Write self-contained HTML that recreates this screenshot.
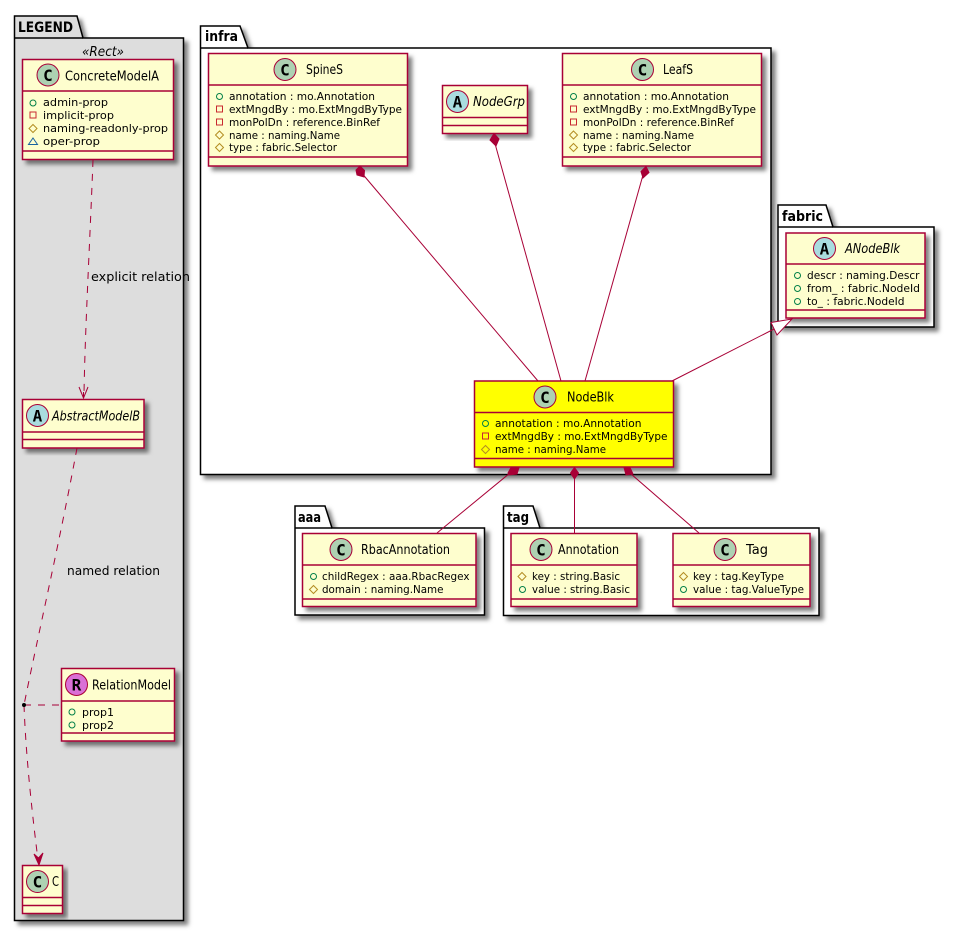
<!DOCTYPE html>
<html>
<head>
<meta charset="utf-8">
<title>Diagram</title>
<style>
html,body{margin:0;padding:0;background:#fff;width:955px;height:932px;overflow:hidden}
svg{display:block}
text{font-family:"DejaVu Sans","Liberation Sans",sans-serif;fill:#000}
.m{font-size:11px}
.t{font-size:13px}
.i{font-style:italic}
.p{font-size:14px;font-weight:bold}
.l{font-size:12.5px}
.g{font-family:"DejaVu Sans Mono","Liberation Mono",monospace;font-weight:bold;font-size:16px;text-anchor:middle}
.box{stroke:#A80036;stroke-width:1.5;fill:#FEFECE;filter:url(#s)}
.pk{stroke:#000;stroke-width:1.5;fill:#fff;filter:url(#s)}
.d{stroke:#A80036;stroke-width:1.5}
.e{stroke:#A80036;stroke-width:1;fill:none}
.ds{stroke:#A80036;stroke-width:1;fill:none;stroke-dasharray:7,7}
.vp{fill:none;stroke:#038048;stroke-width:1}
.vm{fill:none;stroke:#C82930;stroke-width:1}
.vh{fill:none;stroke:#B38D22;stroke-width:1}
.vt{fill:none;stroke:#1963A0;stroke-width:1}
</style>
</head>
<body>
<svg width="955" height="932" viewBox="0 0 955 932" xmlns="http://www.w3.org/2000/svg">
<defs>
<filter id="s" x="-10%" y="-10%" width="125%" height="125%">
<feDropShadow dx="4" dy="4" stdDeviation="2.2" flood-color="#000" flood-opacity="0.5"/>
</filter>
</defs>

<!-- packages -->
<path class="pk" style="fill:#DDDDDD" d="M14.5,38 V16 H77 L83,38 H183.5 V920.5 H14.5 Z"/>
<path d="M14.5,38 H83" stroke="#000" stroke-width="1.5" fill="none"/>
<text class="p" x="18" y="32" textLength="55" lengthAdjust="spacingAndGlyphs">LEGEND</text>

<path class="pk" d="M200.5,48 V26 H240 L248,48 H771 V474.5 H200.5 Z"/>
<path d="M200.5,48 H248" stroke="#000" stroke-width="1.5"/>
<text class="p" x="205" y="41" textLength="33" lengthAdjust="spacingAndGlyphs">infra</text>

<path class="pk" d="M778,227 V205 H826 L833,227 H934 V327 H778 Z"/>
<path d="M778,227 H833" stroke="#000" stroke-width="1.5"/>
<text class="p" x="782" y="221" textLength="41" lengthAdjust="spacingAndGlyphs">fabric</text>

<path class="pk" d="M295,528 V506 H325 L332,528 H484.5 V615 H295 Z"/>
<path d="M295,528 H332" stroke="#000" stroke-width="1.5"/>
<text class="p" x="298" y="522" textLength="23" lengthAdjust="spacingAndGlyphs">aaa</text>

<path class="pk" d="M503.5,528 V506 H533 L540,528 H819 V615.5 H503.5 Z"/>
<path d="M503.5,528 H540" stroke="#000" stroke-width="1.5"/>
<text class="p" x="507" y="522" textLength="22" lengthAdjust="spacingAndGlyphs">tag</text>

<text x="82" y="56" textLength="42" lengthAdjust="spacingAndGlyphs" class="i" style="font-size:13.5px">«Rect»</text>

<!-- ConcreteModelA -->
<rect class="box" x="22.5" y="59.5" width="151" height="100"/>
<path class="d" d="M22.5,91 H173.5 M22.5,151 H173.5"/>
<circle cx="48" cy="75" r="11" fill="#ADD1B2" stroke="#A80036"/>
<text class="g" x="48" y="81">C</text>
<text class="t" x="65" y="80.5" textLength="94" lengthAdjust="spacingAndGlyphs">ConcreteModelA</text>
<circle class="vp" cx="33" cy="103" r="3"/>
<rect class="vm" x="30" y="112" width="6" height="6"/>
<path class="vh" d="M33,124.5 L37,128.5 L33,132.5 L29,128.5 Z"/>
<path class="vt" d="M33,138 L37.5,144.5 H28.5 Z"/>
<text class="m" x="43" y="106" textLength="65" lengthAdjust="spacingAndGlyphs">admin-prop</text>
<text class="m" x="43" y="119" textLength="71" lengthAdjust="spacingAndGlyphs">implicit-prop</text>
<text class="m" x="43" y="132" textLength="125" lengthAdjust="spacingAndGlyphs">naming-readonly-prop</text>
<text class="m" x="43" y="145" textLength="57" lengthAdjust="spacingAndGlyphs">oper-prop</text>

<!-- AbstractModelB -->
<rect class="box" x="22.5" y="399.5" width="121.5" height="48.5"/>
<path class="d" d="M22.5,432 H144 M22.5,439.5 H144"/>
<circle cx="37.5" cy="415.5" r="11" fill="#A9DCDF" stroke="#A80036"/>
<text class="g" x="37.5" y="421.5">A</text>
<text class="t i" x="52" y="420.5" textLength="88" lengthAdjust="spacingAndGlyphs">AbstractModelB</text>

<!-- RelationModel -->
<rect class="box" x="61.5" y="668.5" width="113" height="72.5"/>
<path class="d" d="M61.5,701 H174.5 M61.5,733 H174.5"/>
<circle cx="76.5" cy="684.5" r="11" fill="#DA70D6" stroke="#A80036"/>
<text class="g" x="76.5" y="690.5">R</text>
<text class="t" x="92" y="689.5" textLength="79" lengthAdjust="spacingAndGlyphs">RelationModel</text>
<circle class="vp" cx="72" cy="712" r="3"/>
<circle class="vp" cx="72" cy="725" r="3"/>
<text class="m" x="82" y="716" textLength="32" lengthAdjust="spacingAndGlyphs">prop1</text>
<text class="m" x="82" y="729" textLength="32" lengthAdjust="spacingAndGlyphs">prop2</text>

<!-- C -->
<rect class="box" x="22.5" y="865.5" width="40" height="48"/>
<path class="d" d="M22.5,897.5 H62.5 M22.5,905.5 H62.5"/>
<circle cx="37.5" cy="881.5" r="11" fill="#ADD1B2" stroke="#A80036"/>
<text class="g" x="37.5" y="887.5">C</text>
<text class="t" x="52" y="886" textLength="7" lengthAdjust="spacingAndGlyphs">C</text>

<!-- SpineS -->
<rect class="box" x="208.5" y="53.5" width="199" height="112.5"/>
<path class="d" d="M208.5,85 H407.5 M208.5,157 H407.5"/>
<circle cx="285" cy="69.5" r="11" fill="#ADD1B2" stroke="#A80036"/>
<text class="g" x="285" y="75.5">C</text>
<text class="t" x="306" y="74" textLength="37" lengthAdjust="spacingAndGlyphs">SpineS</text>
<circle class="vp" cx="219.5" cy="96.5" r="3"/>
<rect class="vm" x="216.5" y="106" width="6" height="6"/>
<rect class="vm" x="216.5" y="119" width="6" height="6"/>
<path class="vh" d="M219.5,131 L223.5,135 L219.5,139 L215.5,135 Z"/>
<path class="vh" d="M219.5,143.5 L223.5,147.5 L219.5,151.5 L215.5,147.5 Z"/>
<text class="m" x="229" y="100" textLength="146" lengthAdjust="spacingAndGlyphs">annotation : mo.Annotation</text>
<text class="m" x="229" y="113" textLength="173" lengthAdjust="spacingAndGlyphs">extMngdBy : mo.ExtMngdByType</text>
<text class="m" x="229" y="126" textLength="151" lengthAdjust="spacingAndGlyphs">monPolDn : reference.BinRef</text>
<text class="m" x="229" y="139" textLength="111" lengthAdjust="spacingAndGlyphs">name : naming.Name</text>
<text class="m" x="229" y="151" textLength="108" lengthAdjust="spacingAndGlyphs">type : fabric.Selector</text>

<!-- LeafS -->
<rect class="box" x="562.5" y="53.5" width="199" height="112.5"/>
<path class="d" d="M562.5,85 H761.5 M562.5,157 H761.5"/>
<circle cx="642.5" cy="69.5" r="11" fill="#ADD1B2" stroke="#A80036"/>
<text class="g" x="642.5" y="75.5">C</text>
<text class="t" x="663" y="74" textLength="30" lengthAdjust="spacingAndGlyphs">LeafS</text>
<circle class="vp" cx="573.5" cy="96.5" r="3"/>
<rect class="vm" x="570.5" y="106" width="6" height="6"/>
<rect class="vm" x="570.5" y="119" width="6" height="6"/>
<path class="vh" d="M573.5,131 L577.5,135 L573.5,139 L569.5,135 Z"/>
<path class="vh" d="M573.5,143.5 L577.5,147.5 L573.5,151.5 L569.5,147.5 Z"/>
<text class="m" x="583" y="100" textLength="146" lengthAdjust="spacingAndGlyphs">annotation : mo.Annotation</text>
<text class="m" x="583" y="113" textLength="173" lengthAdjust="spacingAndGlyphs">extMngdBy : mo.ExtMngdByType</text>
<text class="m" x="583" y="126" textLength="151" lengthAdjust="spacingAndGlyphs">monPolDn : reference.BinRef</text>
<text class="m" x="583" y="139" textLength="111" lengthAdjust="spacingAndGlyphs">name : naming.Name</text>
<text class="m" x="583" y="151" textLength="108" lengthAdjust="spacingAndGlyphs">type : fabric.Selector</text>

<!-- NodeGrp -->
<rect class="box" x="442.5" y="85.5" width="85" height="48"/>
<path class="d" d="M442.5,117.5 H527.5 M442.5,125.5 H527.5"/>
<circle cx="457.5" cy="101.5" r="11" fill="#A9DCDF" stroke="#A80036"/>
<text class="g" x="457.5" y="107.5">A</text>
<text class="t i" x="473" y="106" textLength="52" lengthAdjust="spacingAndGlyphs">NodeGrp</text>

<!-- ANodeBlk -->
<rect class="box" x="786" y="233" width="139" height="85"/>
<path class="d" d="M786,264 H925 M786,310 H925"/>
<circle cx="824.5" cy="248.5" r="11" fill="#A9DCDF" stroke="#A80036"/>
<text class="g" x="824.5" y="254.5">A</text>
<text class="t i" x="845" y="253" textLength="55" lengthAdjust="spacingAndGlyphs">ANodeBlk</text>
<circle class="vp" cx="797.5" cy="275.5" r="3"/>
<circle class="vp" cx="797.5" cy="288.5" r="3"/>
<circle class="vp" cx="797.5" cy="301.5" r="3"/>
<text class="m" x="807" y="279" textLength="112.5" lengthAdjust="spacingAndGlyphs">descr : naming.Descr</text>
<text class="m" x="807" y="292" textLength="113" lengthAdjust="spacingAndGlyphs">from_ : fabric.NodeId</text>
<text class="m" x="807" y="305" textLength="97.5" lengthAdjust="spacingAndGlyphs">to_ : fabric.NodeId</text>

<!-- NodeBlk -->
<rect class="box" style="fill:#FFFF00" x="474.5" y="381" width="199" height="86"/>
<path class="d" d="M474.5,412.5 H673.5 M474.5,458.5 H673.5"/>
<circle cx="545" cy="397" r="11" fill="#ADD1B2" stroke="#A80036"/>
<text class="g" x="545" y="403">C</text>
<text class="t" x="567" y="401.5" textLength="47" lengthAdjust="spacingAndGlyphs">NodeBlk</text>
<circle class="vp" cx="485.5" cy="423.5" r="3"/>
<rect class="vm" x="482.5" y="433" width="6" height="6"/>
<path class="vh" d="M485.5,445.5 L489.5,449.5 L485.5,453.5 L481.5,449.5 Z"/>
<text class="m" x="495" y="427" textLength="146.5" lengthAdjust="spacingAndGlyphs">annotation : mo.Annotation</text>
<text class="m" x="495" y="440" textLength="172.5" lengthAdjust="spacingAndGlyphs">extMngdBy : mo.ExtMngdByType</text>
<text class="m" x="495" y="453" textLength="111" lengthAdjust="spacingAndGlyphs">name : naming.Name</text>

<!-- RbacAnnotation -->
<rect class="box" x="302.5" y="533.5" width="173.5" height="73"/>
<path class="d" d="M302.5,565 H476 M302.5,599 H476"/>
<circle cx="341" cy="549.5" r="11" fill="#ADD1B2" stroke="#A80036"/>
<text class="g" x="341" y="555.5">C</text>
<text class="t" x="361" y="554" textLength="89" lengthAdjust="spacingAndGlyphs">RbacAnnotation</text>
<circle class="vp" cx="313.5" cy="576.5" r="3"/>
<path class="vh" d="M313.5,585.5 L317.5,589.5 L313.5,593.5 L309.5,589.5 Z"/>
<text class="m" x="322" y="580" textLength="147.5" lengthAdjust="spacingAndGlyphs">childRegex : aaa.RbacRegex</text>
<text class="m" x="322" y="593" textLength="121.5" lengthAdjust="spacingAndGlyphs">domain : naming.Name</text>

<!-- Annotation -->
<rect class="box" x="511" y="533.5" width="126" height="73"/>
<path class="d" d="M511,565 H637 M511,599 H637"/>
<circle cx="541" cy="549.5" r="11" fill="#ADD1B2" stroke="#A80036"/>
<text class="g" x="541" y="555.5">C</text>
<text class="t" x="558" y="554" textLength="61" lengthAdjust="spacingAndGlyphs">Annotation</text>
<path class="vh" d="M522,572.5 L526,576.5 L522,580.5 L518,576.5 Z"/>
<circle class="vp" cx="522.5" cy="589.5" r="3"/>
<text class="m" x="532" y="580" textLength="88" lengthAdjust="spacingAndGlyphs">key : string.Basic</text>
<text class="m" x="532" y="593" textLength="98" lengthAdjust="spacingAndGlyphs">value : string.Basic</text>

<!-- Tag -->
<rect class="box" x="673" y="533.5" width="137" height="73"/>
<path class="d" d="M673,565 H810 M673,599 H810"/>
<circle cx="725" cy="549.5" r="11" fill="#ADD1B2" stroke="#A80036"/>
<text class="g" x="725" y="555.5">C</text>
<text class="t" x="746" y="554" textLength="22" lengthAdjust="spacingAndGlyphs">Tag</text>
<path class="vh" d="M683.5,572.5 L687.5,576.5 L683.5,580.5 L679.5,576.5 Z"/>
<circle class="vp" cx="683.5" cy="589.5" r="3"/>
<text class="m" x="693" y="580" textLength="91" lengthAdjust="spacingAndGlyphs">key : tag.KeyType</text>
<text class="m" x="693" y="593" textLength="111" lengthAdjust="spacingAndGlyphs">value : tag.ValueType</text>

<!-- connectors: composition -->
<path class="e" d="M360,171 L538,381"/>
<path d="M360,166 L364.5,170.5 L364,177 L357,175 L356,170 Z" fill="#A80036" stroke="#A80036" stroke-width="1"/>
<path class="e" d="M494,140 L561,381"/>
<path d="M494,133.5 L499,139 L496,146 L490,140 Z" fill="#A80036" stroke="#A80036"/>
<path class="e" d="M643,175 L585,381"/>
<path d="M646,166.5 L649,172.5 L643,178 L641,171.5 Z" fill="#A80036" stroke="#A80036"/>

<path class="e" d="M510,473 L437,533"/>
<path d="M511,467.5 L519,467.5 L517,474 L509,475 L508,473 Z" fill="#A80036" stroke="#A80036"/>
<path class="e" d="M574.5,475 V533"/>
<path d="M574.5,467.5 L578.5,473 L574.5,479 L570.5,473 Z" fill="#A80036" stroke="#A80036"/>
<path class="e" d="M631,474 L699,533"/>
<path d="M624,467.5 L630,467.5 L633,474 L626,475 Z" fill="#A80036" stroke="#A80036"/>

<!-- inheritance -->
<path class="e" d="M776,328 L672,381"/>
<path d="M792,319 L771,322.5 L777,335 Z" fill="#fff" stroke="#A80036" stroke-width="1"/>

<!-- dashed -->
<path class="ds" d="M93,160 C90,240 85,330 84,394"/>
<path class="e" d="M79,387 L83.5,398 L88,387 M83.5,392 V398"/>
<path class="ds" d="M77,448 C60,540 37,640 24,705"/>
<path class="ds" d="M24,705 H61"/>
<path class="ds" d="M24,705 C26,760 33,820 38,860"/>
<path d="M39,865 L34,854 L38.5,858 L43,853 Z" fill="#A80036" stroke="#A80036"/>
<circle cx="24" cy="705" r="2" fill="#000"/>

<text class="l" x="91" y="281" textLength="99" lengthAdjust="spacingAndGlyphs">explicit relation</text>
<text class="l" x="67" y="575" textLength="93" lengthAdjust="spacingAndGlyphs">named relation</text>
</svg>
</body>
</html>
